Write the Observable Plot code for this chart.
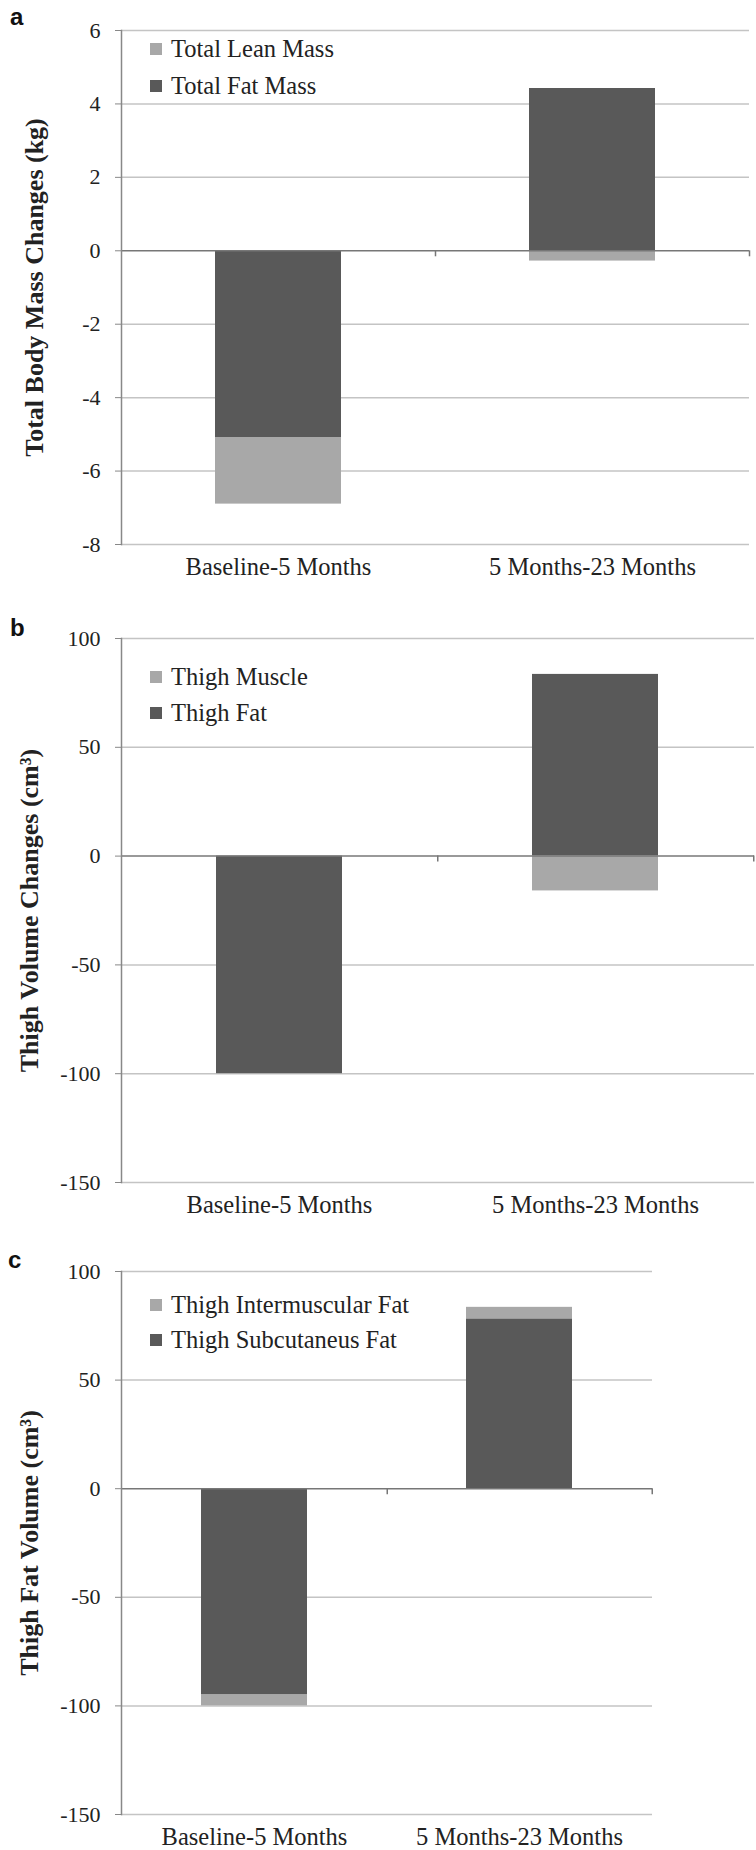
<!DOCTYPE html>
<html><head><meta charset="utf-8">
<script src="https://cdn.jsdelivr.net/npm/d3@7"></script>
<script src="https://cdn.jsdelivr.net/npm/@observablehq/plot@0.6"></script>
<style>
body{margin:0;background:#fff;}
#page{position:relative;width:756px;height:1850px;overflow:hidden;background:#fff;font-family:"Liberation Serif","Times New Roman",serif;}
.panel{position:absolute;left:0;}
.letter{position:absolute;font-family:"Liberation Sans",Arial,sans-serif;font-weight:bold;font-size:24px;color:#111;line-height:1;}
.legend{position:absolute;left:150px;font-size:24.5px;color:#222;}
.legend .row{display:flex;align-items:center;white-space:nowrap;}
.legend .sw{width:12px;height:12px;margin-right:9px;flex:none;}
svg g[aria-label="y-axis label"] text{font-weight:bold;font-size:26px;}
</style></head>
<body><div id="page"></div>
<script>
// ---- data ----
const periods = ["Baseline-5 Months", "5 Months-23 Months"];

const massSeries = ["Total Fat Mass", "Total Lean Mass"];
const fatMassChange = [-5.1, 4.42];
const leanMassChange = [-1.8, -0.28];
const massTicks = [6, 4, 2, 0, -2, -4, -6, -8];

const thighSeries = ["Thigh Fat", "Thigh Muscle"];
const thighFatChange = [-100, 83.5];
const thighMuscleChange = [0, -16];
const thighTicks = [100, 50, 0, -50, -100, -150];

const fatSeries = ["Thigh Subcutaneus Fat", "Thigh Intermuscular Fat"];
const subcutFatChange = [-95, 78.2];
const intermuscFatChange = [-5, 5.3];
const fatTicks = [100, 50, 0, -50, -100, -150];

const DARK = "#595959", LIGHT = "#a8a8a8";

function makePanel(cfg) {
  const rows = [];
  cfg.series.forEach((s, si) => periods.forEach((p, pi) => rows.push({period: p, series: s, value: cfg.values[si][pi]})));
  const W = 756;
  const innerW = W - cfg.marginLeft - cfg.marginRight;
  const step = innerW / periods.length;
  const innerH = cfg.height - cfg.marginTop - cfg.marginBottom;
  const dom = [d3.min(cfg.ticks), d3.max(cfg.ticks)];
  const unitPx = innerH / (dom[1] - dom[0]);
  const tickLen = 6 / unitPx;
  return Plot.plot({
    width: W, height: cfg.height,
    marginLeft: cfg.marginLeft, marginRight: cfg.marginRight,
    marginTop: cfg.marginTop, marginBottom: cfg.marginBottom,
    style: {fontFamily: '"Liberation Serif","Times New Roman",serif', fontSize: "22px", color: "#222", background: "transparent", overflow: "visible"},
    x: {domain: periods, paddingInner: 0.6, paddingOuter: 0.3, label: null},
    y: {domain: dom, ticks: cfg.ticks, label: cfg.yLabel},
    color: {domain: cfg.series, range: [DARK, LIGHT]},
    marks: [
      Plot.gridY(cfg.ticks.filter(t => t !== 0), {stroke: "#c4c4c4", strokeOpacity: 1, strokeWidth: 1.5}),
      Plot.barY(rows, Plot.stackY({x: "period", y: "value", fill: "series"})),
      Plot.ruleY([0], {stroke: "#777", strokeWidth: 1.5}),
      Plot.ruleX(periods, {x: d => d, y1: 0, y2: -tickLen, dx: step / 2, stroke: "#777", strokeWidth: 1.5}),
      Plot.frame({anchor: "left", stroke: "#888", strokeWidth: 1.5}),
      Plot.axisY(cfg.ticks, {tickFormat: d => String(d), tickSize: 6, tickPadding: 15, stroke: "#888", fill: "#222",
        label: cfg.yLabel, labelAnchor: "center", labelOffset: cfg.labelOffset, labelArrow: "none"}),
      Plot.axisX({tickSize: 0, tickPadding: 13, fontSize: 24.5, fill: "#222", label: null})
    ]
  });
}

const page = document.getElementById("page");

function addPanel(top, cfg, letter, letterPos, legendCenter, rowH, legendItems) {
  const div = document.createElement("div");
  div.className = "panel";
  div.style.top = top + "px";
  div.appendChild(makePanel(cfg));
  page.appendChild(div);
  const l = document.createElement("div");
  l.className = "letter";
  l.textContent = letter;
  l.style.left = letterPos[0] + "px";
  l.style.top = letterPos[1] + "px";
  page.appendChild(l);
  const lg = document.createElement("div");
  lg.className = "legend";
  lg.style.top = (legendCenter - rowH / 2) + "px";
  legendItems.forEach(([name, color]) => {
    const r = document.createElement("div");
    r.className = "row";
    r.style.height = rowH + "px";
    const sw = document.createElement("span");
    sw.className = "sw";
    sw.style.background = color;
    const t = document.createElement("span");
    t.textContent = name;
    r.appendChild(sw); r.appendChild(t);
    lg.appendChild(r);
  });
  page.appendChild(lg);
}

addPanel(0, {
  height: 600, marginTop: 30, marginBottom: 56, marginLeft: 121, marginRight: 7,
  series: massSeries, values: [fatMassChange, leanMassChange], ticks: massTicks,
  yLabel: "Total Body Mass Changes (kg)", labelOffset: 97
}, "a", [10, 5], 49, 37, [[massSeries[1], LIGHT], [massSeries[0], DARK]]);

addPanel(600, {
  height: 630, marginTop: 38, marginBottom: 48, marginLeft: 121, marginRight: 2,
  series: thighSeries, values: [thighFatChange, thighMuscleChange], ticks: thighTicks,
  yLabel: "Thigh Volume Changes (cm³)", labelOffset: 102
}, "b", [10, 616], 677, 36, [[thighSeries[1], LIGHT], [thighSeries[0], DARK]]);

addPanel(1230, {
  height: 620, marginTop: 41, marginBottom: 36, marginLeft: 121, marginRight: 104,
  series: fatSeries, values: [subcutFatChange, intermuscFatChange], ticks: fatTicks,
  yLabel: "Thigh Fat Volume (cm³)", labelOffset: 102
}, "c", [8, 1248], 1305, 35, [[fatSeries[1], LIGHT], [fatSeries[0], DARK]]);
</script></body></html>
